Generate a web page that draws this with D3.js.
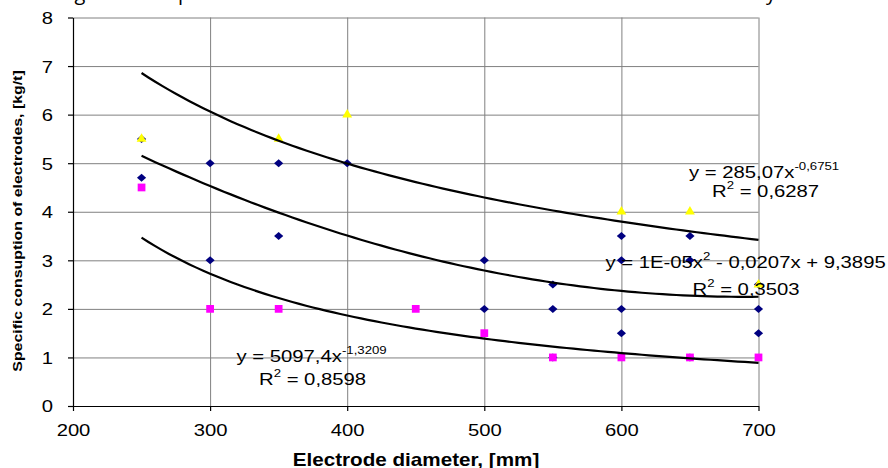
<!DOCTYPE html>
<html>
<head>
<meta charset="utf-8">
<script src="https://cdn.jsdelivr.net/npm/d3@7"></script>
<style>
  body { margin: 0; background: #fff; }
  svg { display: block; font-family: "Liberation Sans", Arial, sans-serif; }
</style>
</head>
<body>
<svg id="chart" width="888" height="468"></svg>
<script>
// values
var xTicks = [200, 300, 400, 500, 600, 700]
var yTicks = [0, 1, 2, 3, 4, 5, 6, 7, 8]

var blueX = [250, 250, 300, 300, 350, 350, 400, 500, 500, 550, 550, 550, 600, 600, 600, 600, 650, 650, 650, 700, 700, 700]
var blueY = [5.5, 4.7, 5, 3, 5, 3.5, 5, 3, 2, 2.5, 2, 1, 3.5, 3, 2, 1.5, 3.5, 3, 1, 2.5, 2, 1.5]

var pinkX = [250, 300, 350, 450, 500, 550, 600, 650, 700]
var pinkY = [4.5, 2, 2, 2, 1.5, 1, 1, 1, 1]

var yellowX = [250, 350, 400, 600, 650, 700]
var yellowY = [5.5, 5.5, 6, 4, 4, 2.5]

// trendline coefficients (shown on the chart)
var topPow = [285.07, -0.6751]
var midPoly = [1.5e-5, -0.0207, 9.3895]
var lowPow = [5097.4, -1.3209]
var trendFrom = 250, trendTo = 700

var svg = d3.select("#chart")
var SX = 1.19  // the text in the picture is drawn a bit wide

var x = d3.scaleLinear().domain([200, 700]).range([73, 758.5])
var y = d3.scaleLinear().domain([0, 8]).range([406, 17.5])

// cut off caption line at the very top, only descenders show
var cap = svg.append("text")
    .attr("y", -0.5)
    .style("font-family", "'Open Sans', sans-serif")
    .style("font-size", "20px")
    .attr("fill", "#000")
cap.append("tspan").attr("x", 74.5).attr("text-anchor", "end").text("Chan")
cap.append("tspan").attr("x", 74.5).text("ge of the s")
cap.append("tspan").attr("x", 178).text("pecific consum")
cap.append("tspan").attr("x", 357).text("tion of electrodes versus the diameter b")
cap.append("tspan").attr("x", 766).text("y the furnace")

// grid
svg.append("g")
    .attr("transform", "translate(0,406)")
    .call(d3.axisBottom(x).tickValues(xTicks.slice(1)).tickSize(-(406 - 17.5)).tickFormat(""))
    .call(g => g.select(".domain").remove())
    .selectAll("line").attr("stroke", "#808080")

svg.append("g")
    .attr("transform", "translate(73,0)")
    .call(d3.axisLeft(y).tickValues(yTicks.slice(1)).tickSize(-(758.5 - 73)).tickFormat(""))
    .call(g => g.select(".domain").remove())
    .selectAll("line").attr("stroke", "#808080")

// axes
var xAxis = svg.append("g")
    .attr("transform", "translate(0,406)")
    .call(d3.axisBottom(x).tickValues(xTicks).tickSizeInner(5).tickSizeOuter(0))
xAxis.selectAll("text")
    .attr("y", 0).attr("dy", 0)
    .attr("transform", `translate(0,29.5) scale(${SX},1)`)
    .style("font-size", "17px")
    .attr("fill", "#000")

var yAxis = svg.append("g")
    .attr("transform", "translate(73,0)")
    .call(d3.axisLeft(y).tickValues(yTicks).tickSizeInner(5).tickSizeOuter(0))
yAxis.selectAll("text")
    .attr("x", 0).attr("dy", "0.35em")
    .attr("transform", `translate(-20,0) scale(${SX},1)`)
    .style("font-size", "17px")
    .attr("fill", "#000")

xAxis.selectAll(".domain, .tick line").attr("stroke", "#000").attr("stroke-width", 1.2)
yAxis.selectAll(".domain, .tick line").attr("stroke", "#000").attr("stroke-width", 1.2)

// axis titles
svg.append("text")
    .attr("transform", `translate(416,466) scale(1.18,1)`)
    .attr("text-anchor", "middle")
    .style("font-size", "17.5px")
    .style("font-weight", "bold")
    .text("Electrode diameter, [mm]")

svg.append("text")
    .attr("transform", `translate(22,221) rotate(-90) scale(1.24,1)`)
    .attr("text-anchor", "middle")
    .style("font-size", "12.8px")
    .style("font-weight", "bold")
    .text("Specific consuption of electrodes, [kg/t]")

// markers
var diamond = "M0,-4L4.6,0L0,4L-4.6,0Z"
svg.append("g").selectAll("path")
    .data(blueX.map((d, i) => [d, blueY[i]]))
    .join("path")
    .attr("d", diamond)
    .attr("fill", "#000080")
    .attr("transform", d => `translate(${x(d[0])},${y(d[1])})`)

svg.append("g").selectAll("path")
    .data(pinkX.map((d, i) => [d, pinkY[i]]))
    .join("path")
    .attr("d", d3.symbol(d3.symbolSquare, 60))
    .attr("fill", "#ff00ff")
    .attr("transform", d => `translate(${x(d[0])},${y(d[1])})`)

svg.append("g").selectAll("path")
    .data(yellowX.map((d, i) => [d, yellowY[i]]))
    .join("path")
    .attr("d", d3.symbol(d3.symbolTriangle, 42))
    .attr("fill", "#ffff00")
    .attr("transform", d => `translate(${x(d[0])},${y(d[1])})`)

// trendlines
var xs = d3.range(trendFrom, trendTo + 0.1, 5)
var line = d3.line().x(d => x(d[0])).y(d => y(d[1]))
var curves = [
    xs.map(v => [v, topPow[0] * Math.pow(v, topPow[1])]),
    xs.map(v => [v, midPoly[0] * v * v + midPoly[1] * v + midPoly[2]]),
    xs.map(v => [v, lowPow[0] * Math.pow(v, lowPow[1])])
]
svg.append("g").selectAll("path")
    .data(curves)
    .join("path")
    .attr("d", line)
    .attr("fill", "none")
    .attr("stroke", "#000")
    .attr("stroke-width", 2.2)

// trendline labels
function label(px, py, parts) {
    var t = svg.append("text")
        .attr("transform", `translate(${px},${py}) scale(1.18,1)`)
        .style("font-size", "17.2px")
        .attr("fill", "#000")
    parts.forEach(p => {
        var s = t.append("tspan").text(p[0])
        if (p[1] == "sup") s.style("font-size", "11.2px").attr("dy", -8)
        if (p[1] == "back") s.attr("dy", 8)
    })
}

label(689, 178, [["y = 285,07x"], ["-0,6751", "sup"]])
label(712, 197, [["R"], ["2", "sup"], [" = 0,6287", "back"]])
label(605.5, 268, [["y = 1E-05x"], ["2", "sup"], [" - 0,0207x + 9,3895", "back"]])
label(692.5, 295, [["R"], ["2", "sup"], [" = 0,3503", "back"]])
label(236.5, 362, [["y = 5097,4x"], ["-1,3209", "sup"]])
label(259, 385, [["R"], ["2", "sup"], [" = 0,8598", "back"]])
</script>
</body>
</html>
